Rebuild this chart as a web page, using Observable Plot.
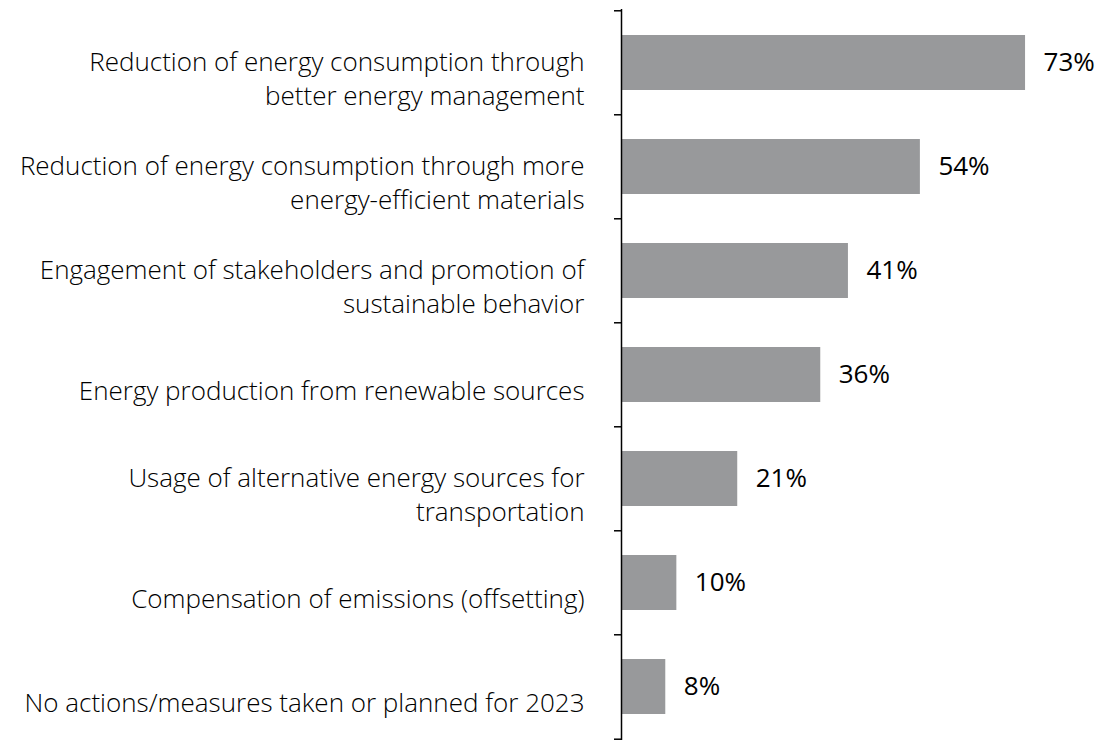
<!DOCTYPE html>
<html><head><meta charset="utf-8">
<script src="https://cdn.jsdelivr.net/npm/d3@7"></script>
<script src="https://cdn.jsdelivr.net/npm/@observablehq/plot@0.6"></script>
<style>body{margin:0;background:#fff;}</style>
</head><body><div id="chart"></div>
<script>
const categories = [
  "Reduction of energy consumption through\nbetter energy management",
  "Reduction of energy consumption through more\nenergy-efficient materials",
  "Engagement of stakeholders and promotion of\nsustainable behavior",
  "Energy production from renewable sources",
  "Usage of alternative energy sources for\ntransportation",
  "Compensation of emissions (offsetting)",
  "No actions/measures taken or planned for 2023"
];
const values = [73, 54, 41, 36, 21, 10, 8];
const data = categories.map((c, i) => ({category: c, value: values[i]}));

const W = 1097, H = 741, mTop = 9, mBottom = 1, mLeft = 621;
const step = (H - mTop - mBottom) / categories.length;

const chart = Plot.plot({
  width: W, height: H,
  marginLeft: mLeft, marginRight: 0, marginTop: mTop, marginBottom: mBottom,
  style: {background: "#fff", overflow: "visible", fontFamily: "'Open Sans', sans-serif"},
  x: {domain: [0, 86], axis: null},
  y: {domain: categories, paddingInner: 0.47, paddingOuter: 0.235, axis: null},
  marks: [
    Plot.barX(data, {x: "value", y: "category", fill: "#98999b"}),
    Plot.ruleX([0], {stroke: "#000", strokeWidth: 1.5}),
    Plot.axisY(categories, {tickSize: 7, tickFormat: () => "", dy: -step / 2, label: null, stroke: "#000", strokeWidth: 1.5}),
    Plot.axisY([categories[categories.length - 1]], {tickSize: 7, tickFormat: () => "", dy: step / 2, label: null, stroke: "#000", strokeWidth: 1.5}),
    Plot.text(data, {x: 0, y: "category", text: "category", textAnchor: "end", dx: -37, dy: 14, fontSize: 26, fontWeight: 300, fill: "#000", lineHeight: 1.31}),
    Plot.text(data, {x: "value", y: "category", text: d => d.value + "%", textAnchor: "start", dx: 18, fontSize: 26, fill: "#000"})
  ]
});
document.getElementById("chart").append(chart);
</script>
</body></html>
